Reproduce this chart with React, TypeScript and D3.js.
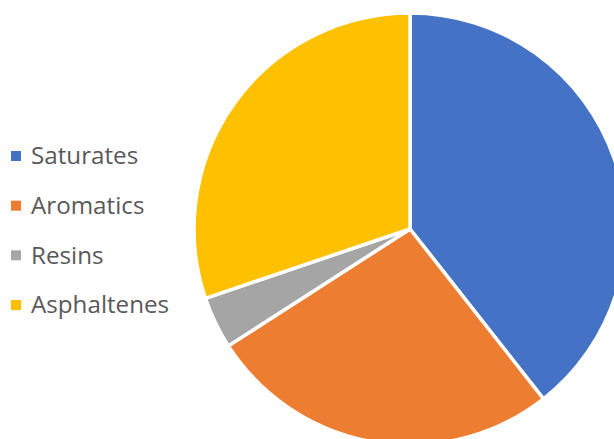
import React from "react";
import * as d3 from "d3";

const categories = ["Saturates", "Aromatics", "Resins", "Asphaltenes"];
const values = [39.4, 26.5, 3.9, 30.2];
const colors = ["#4472C4", "#ED7D31", "#A5A5A5", "#FFC000"];

export default function App() {
  const W = 614, H = 439;
  const cx = 410, cy = 229, r = 216;
  const pie = d3.pie<number>().sort(null).value((d) => d)(values);
  const arc = d3.arc<d3.PieArcDatum<number>>().innerRadius(0).outerRadius(r);
  const legendY = d3.scalePoint<string>().domain(categories).range([156, 305]);
  return (
    <svg width={W} height={H} style={{ position: "absolute", left: 0, top: 0 }}>
      <rect width={W} height={H} fill="#fff" />
      <g transform={`translate(${cx},${cy})`}>
        {pie.map((p, i) => (
          <path key={i} d={arc(p) || ""} fill={colors[i]} stroke="#fff" strokeWidth={3.5} strokeLinejoin="round" />
        ))}
      </g>
      {categories.map((c, i) => (
        <g key={c} transform={`translate(0,${legendY(c)})`}>
          <rect x={11} y={-5} width={10} height={10} fill={colors[i]} />
          <text x={31} y={0} dy="0.35em" fontFamily="'Open Sans', sans-serif" fontSize={24.2} fill="#595959">
            {c}
          </text>
        </g>
      ))}
    </svg>
  );
}
